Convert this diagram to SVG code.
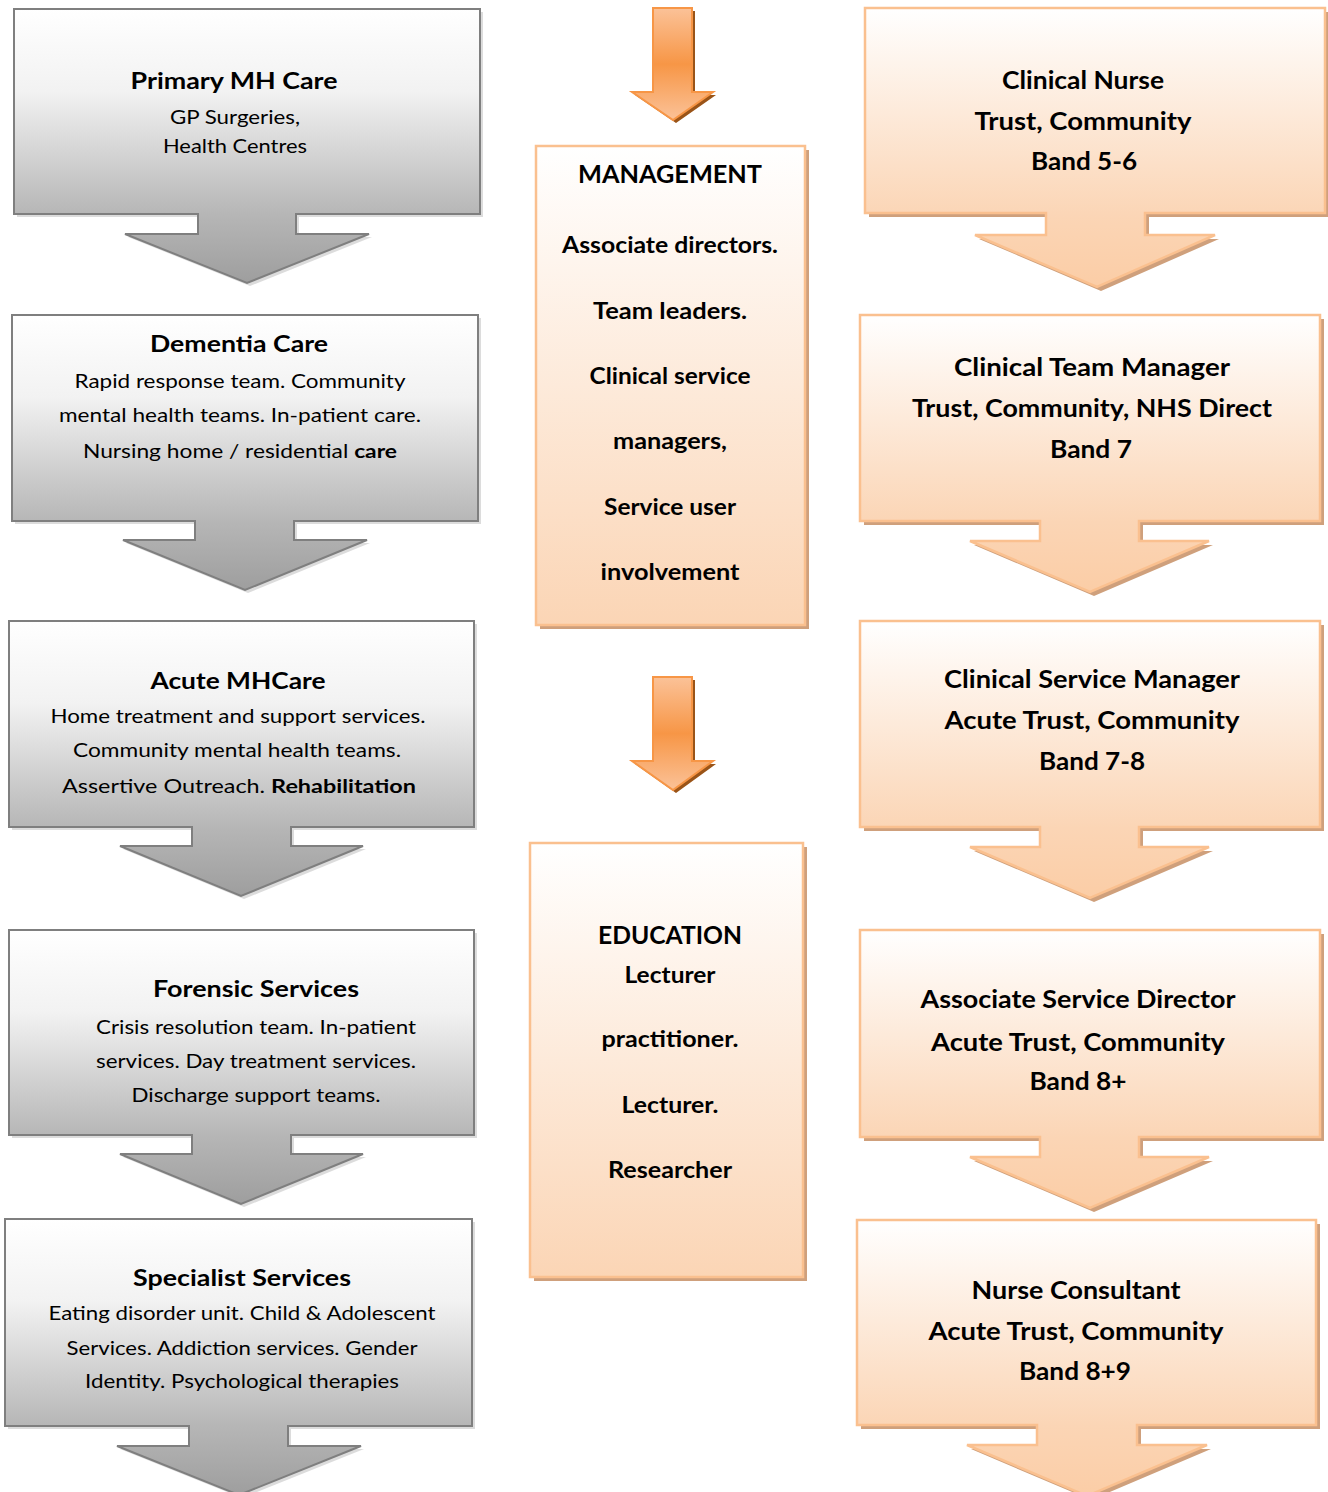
<svg xmlns="http://www.w3.org/2000/svg" width="1328" height="1492" viewBox="0 0 1328 1492">
<defs>
<linearGradient id="gGrey" x1="0" y1="0" x2="0" y2="1">
<stop offset="0" stop-color="#ffffff"/>
<stop offset="0.3" stop-color="#f2f2f2"/>
<stop offset="0.75" stop-color="#b6b6b6"/>
<stop offset="1" stop-color="#9e9e9e"/>
</linearGradient>
<linearGradient id="gPeach" x1="0" y1="0" x2="0" y2="1">
<stop offset="0" stop-color="#ffffff"/>
<stop offset="0.75" stop-color="#fbd5b5"/>
<stop offset="1" stop-color="#fbcda6"/>
</linearGradient>
<linearGradient id="gPeachBox" x1="0" y1="0" x2="0" y2="1">
<stop offset="0" stop-color="#ffffff"/>
<stop offset="1" stop-color="#fbd5b5"/>
</linearGradient>
<linearGradient id="gOrange" x1="0" y1="0" x2="0" y2="1">
<stop offset="0" stop-color="#fbc298"/>
<stop offset="0.5" stop-color="#f79646"/>
<stop offset="1" stop-color="#fbc298"/>
</linearGradient>
<style>
.grey{fill:url(#gGrey);stroke:#7f7f7f;stroke-width:2}
.greyShadow{fill:#c4c4c4;opacity:0.6}
.peach{fill:url(#gPeach);stroke:#fac08f;stroke-width:2.5}
.peachBox{fill:url(#gPeachBox);stroke:#fac08f;stroke-width:2.5}
.peachShadow{fill:#cfa07c}
.orange{fill:url(#gOrange);stroke:#f79646;stroke-width:2}
.orangeShadow{fill:#9a5418}
text{font-family:Lato,"Liberation Sans",sans-serif;fill:#000;text-anchor:middle}
.t{font-weight:bold;font-size:23.5px}
.b{font-size:19px}
.r{font-weight:bold;font-size:25.5px}
.m{font-weight:bold;font-size:22.5px}
.mh{font-weight:bold;font-size:25px}
.bold{font-weight:bold}
</style>
</defs>

<g id="connectors">
<g id="arrow-to-management">
<path class="orangeShadow" transform="translate(3,3)" d="M653,8 H692 V92 H713 L673,120 L632,92 H653 Z"/>
<path class="orange" d="M653,8 H692 V92 H713 L673,120 L632,92 H653 Z"/>
</g>
<g id="arrow-to-education">
<path class="orangeShadow" transform="translate(3,3)" d="M653,677 H692 V761 H713 L673,790 L632,761 H653 Z"/>
<path class="orange" d="M653,677 H692 V761 H713 L673,790 L632,761 H653 Z"/>
</g>
</g>

<g id="primary-mh-care">
<path class="greyShadow" transform="translate(3,3)" d="M14,9 H480 V214 H296 V234 H369 L247,283 L125,234 H198 V214 H14 Z"/>
<path class="grey" d="M14,9 H480 V214 H296 V234 H369 L247,283 L125,234 H198 V214 H14 Z"/>
<text class="t" x="234" y="89" textLength="207" lengthAdjust="spacingAndGlyphs">Primary MH Care</text>
<text class="b" x="235" y="124" textLength="130" lengthAdjust="spacingAndGlyphs">GP Surgeries,</text>
<text class="b" x="235" y="153" textLength="144" lengthAdjust="spacingAndGlyphs">Health Centres</text>
</g>

<g id="dementia-care">
<path class="greyShadow" transform="translate(3,3)" d="M12,315 H478 V521 H294 V540 H367 L245,590 L123,540 H195 V521 H12 Z"/>
<path class="grey" d="M12,315 H478 V521 H294 V540 H367 L245,590 L123,540 H195 V521 H12 Z"/>
<text class="t" x="239" y="352" textLength="178" lengthAdjust="spacingAndGlyphs">Dementia Care</text>
<text class="b" x="240" y="388" textLength="331" lengthAdjust="spacingAndGlyphs">Rapid response team. Community</text>
<text class="b" x="240" y="422" textLength="362" lengthAdjust="spacingAndGlyphs">mental health teams. In-patient care.</text>
<text class="b" x="240" y="458" textLength="314" lengthAdjust="spacingAndGlyphs">Nursing home / residential <tspan class="bold">care</tspan></text>
</g>

<g id="acute-mh-care">
<path class="greyShadow" transform="translate(3,3)" d="M9,621 H474 V827 H291 V846 H363 L241,896 L120,846 H192 V827 H9 Z"/>
<path class="grey" d="M9,621 H474 V827 H291 V846 H363 L241,896 L120,846 H192 V827 H9 Z"/>
<text class="t" x="238" y="689" textLength="175" lengthAdjust="spacingAndGlyphs">Acute MHCare</text>
<text class="b" x="238" y="723" textLength="375" lengthAdjust="spacingAndGlyphs">Home treatment and support services.</text>
<text class="b" x="237" y="757" textLength="328" lengthAdjust="spacingAndGlyphs">Community mental health teams.</text>
<text class="b" x="239" y="793" textLength="354" lengthAdjust="spacingAndGlyphs">Assertive Outreach. <tspan class="bold">Rehabilitation</tspan></text>
</g>

<g id="forensic-services">
<path class="greyShadow" transform="translate(3,3)" d="M9,930 H474 V1135 H291 V1154 H363 L241,1204 L120,1154 H192 V1135 H9 Z"/>
<path class="grey" d="M9,930 H474 V1135 H291 V1154 H363 L241,1204 L120,1154 H192 V1135 H9 Z"/>
<text class="t" x="256" y="997" textLength="206" lengthAdjust="spacingAndGlyphs">Forensic Services</text>
<text class="b" x="256" y="1034" textLength="320" lengthAdjust="spacingAndGlyphs">Crisis resolution team. In-patient</text>
<text class="b" x="256" y="1068" textLength="320" lengthAdjust="spacingAndGlyphs">services. Day treatment services.</text>
<text class="b" x="256" y="1102" textLength="249" lengthAdjust="spacingAndGlyphs">Discharge support teams.</text>
</g>

<g id="specialist-services">
<path class="greyShadow" transform="translate(3,3)" d="M5,1219 H472 V1426 H288 V1446 H361 L239,1495 L117,1446 H189 V1426 H5 Z"/>
<path class="grey" d="M5,1219 H472 V1426 H288 V1446 H361 L239,1495 L117,1446 H189 V1426 H5 Z"/>
<text class="t" x="242" y="1286" textLength="218" lengthAdjust="spacingAndGlyphs">Specialist Services</text>
<text class="b" x="242" y="1320" textLength="387" lengthAdjust="spacingAndGlyphs">Eating disorder unit. Child &amp; Adolescent</text>
<text class="b" x="242" y="1355" textLength="351" lengthAdjust="spacingAndGlyphs">Services. Addiction services. Gender</text>
<text class="b" x="242" y="1388" textLength="314" lengthAdjust="spacingAndGlyphs">Identity. Psychological therapies</text>
</g>

<g id="management">
<rect class="peachShadow" x="540" y="150" width="269" height="479"/>
<rect class="peachBox" x="536" y="146" width="269" height="479"/>
<text class="mh" x="670" y="183" textLength="184" lengthAdjust="spacingAndGlyphs">MANAGEMENT</text>
<text class="m" x="670" y="253" textLength="216" lengthAdjust="spacingAndGlyphs">Associate directors.</text>
<text class="m" x="670" y="319" textLength="154" lengthAdjust="spacingAndGlyphs">Team leaders.</text>
<text class="m" x="670" y="384" textLength="161" lengthAdjust="spacingAndGlyphs">Clinical service</text>
<text class="m" x="670" y="449" textLength="114" lengthAdjust="spacingAndGlyphs">managers,</text>
<text class="m" x="670" y="515" textLength="132" lengthAdjust="spacingAndGlyphs">Service user</text>
<text class="m" x="670" y="580" textLength="139" lengthAdjust="spacingAndGlyphs">involvement</text>
</g>

<g id="education">
<rect class="peachShadow" x="534" y="847" width="273" height="434"/>
<rect class="peachBox" x="530" y="843" width="273" height="434"/>
<text class="mh" x="670" y="944" textLength="144" lengthAdjust="spacingAndGlyphs">EDUCATION</text>
<text class="m" x="670" y="983" textLength="91" lengthAdjust="spacingAndGlyphs">Lecturer</text>
<text class="m" x="670" y="1047" textLength="137" lengthAdjust="spacingAndGlyphs">practitioner.</text>
<text class="m" x="670" y="1113" textLength="97" lengthAdjust="spacingAndGlyphs">Lecturer.</text>
<text class="m" x="670" y="1178" textLength="124" lengthAdjust="spacingAndGlyphs">Researcher</text>
</g>

<g id="clinical-nurse">
<path class="peachShadow" transform="translate(4,4)" d="M865,8 H1325 V213 H1145 V235 H1215 L1097,287 L975,235 H1046 V213 H865 Z"/>
<path class="peach" d="M865,8 H1325 V213 H1145 V235 H1215 L1097,287 L975,235 H1046 V213 H865 Z"/>
<text class="r" x="1083" y="89" textLength="162" lengthAdjust="spacingAndGlyphs">Clinical Nurse</text>
<text class="r" x="1083" y="130" textLength="217" lengthAdjust="spacingAndGlyphs">Trust, Community</text>
<text class="r" x="1084" y="170" textLength="106" lengthAdjust="spacingAndGlyphs">Band 5-6</text>
</g>

<g id="clinical-team-manager">
<path class="peachShadow" transform="translate(4,4)" d="M860,315 H1320 V521 H1139 V541 H1209 L1090,592 L970,541 H1040 V521 H860 Z"/>
<path class="peach" d="M860,315 H1320 V521 H1139 V541 H1209 L1090,592 L970,541 H1040 V521 H860 Z"/>
<text class="r" x="1092" y="376" textLength="276" lengthAdjust="spacingAndGlyphs">Clinical Team Manager</text>
<text class="r" x="1092" y="417" textLength="360" lengthAdjust="spacingAndGlyphs">Trust, Community, NHS Direct</text>
<text class="r" x="1091" y="458" textLength="82" lengthAdjust="spacingAndGlyphs">Band 7</text>
</g>

<g id="clinical-service-manager">
<path class="peachShadow" transform="translate(4,4)" d="M860,621 H1320 V827 H1139 V847 H1209 L1090,898 L970,847 H1040 V827 H860 Z"/>
<path class="peach" d="M860,621 H1320 V827 H1139 V847 H1209 L1090,898 L970,847 H1040 V827 H860 Z"/>
<text class="r" x="1092" y="688" textLength="296" lengthAdjust="spacingAndGlyphs">Clinical Service Manager</text>
<text class="r" x="1092" y="729" textLength="295" lengthAdjust="spacingAndGlyphs">Acute Trust, Community</text>
<text class="r" x="1092" y="770" textLength="106" lengthAdjust="spacingAndGlyphs">Band 7-8</text>
</g>

<g id="associate-service-director">
<path class="peachShadow" transform="translate(4,4)" d="M860,930 H1320 V1137 H1139 V1157 H1209 L1090,1208 L970,1157 H1040 V1137 H860 Z"/>
<path class="peach" d="M860,930 H1320 V1137 H1139 V1157 H1209 L1090,1208 L970,1157 H1040 V1137 H860 Z"/>
<text class="r" x="1078" y="1008" textLength="315" lengthAdjust="spacingAndGlyphs">Associate Service Director</text>
<text class="r" x="1078" y="1051" textLength="294" lengthAdjust="spacingAndGlyphs">Acute Trust, Community</text>
<text class="r" x="1078" y="1090" textLength="97" lengthAdjust="spacingAndGlyphs">Band 8+</text>
</g>

<g id="nurse-consultant">
<path class="peachShadow" transform="translate(4,4)" d="M857,1220 H1316 V1425 H1137 V1445 H1207 L1087,1496 L967,1445 H1037 V1425 H857 Z"/>
<path class="peach" d="M857,1220 H1316 V1425 H1137 V1445 H1207 L1087,1496 L967,1445 H1037 V1425 H857 Z"/>
<text class="r" x="1076" y="1299" textLength="209" lengthAdjust="spacingAndGlyphs">Nurse Consultant</text>
<text class="r" x="1076" y="1340" textLength="295" lengthAdjust="spacingAndGlyphs">Acute Trust, Community</text>
<text class="r" x="1075" y="1380" textLength="112" lengthAdjust="spacingAndGlyphs">Band 8+9</text>
</g>
</svg>
